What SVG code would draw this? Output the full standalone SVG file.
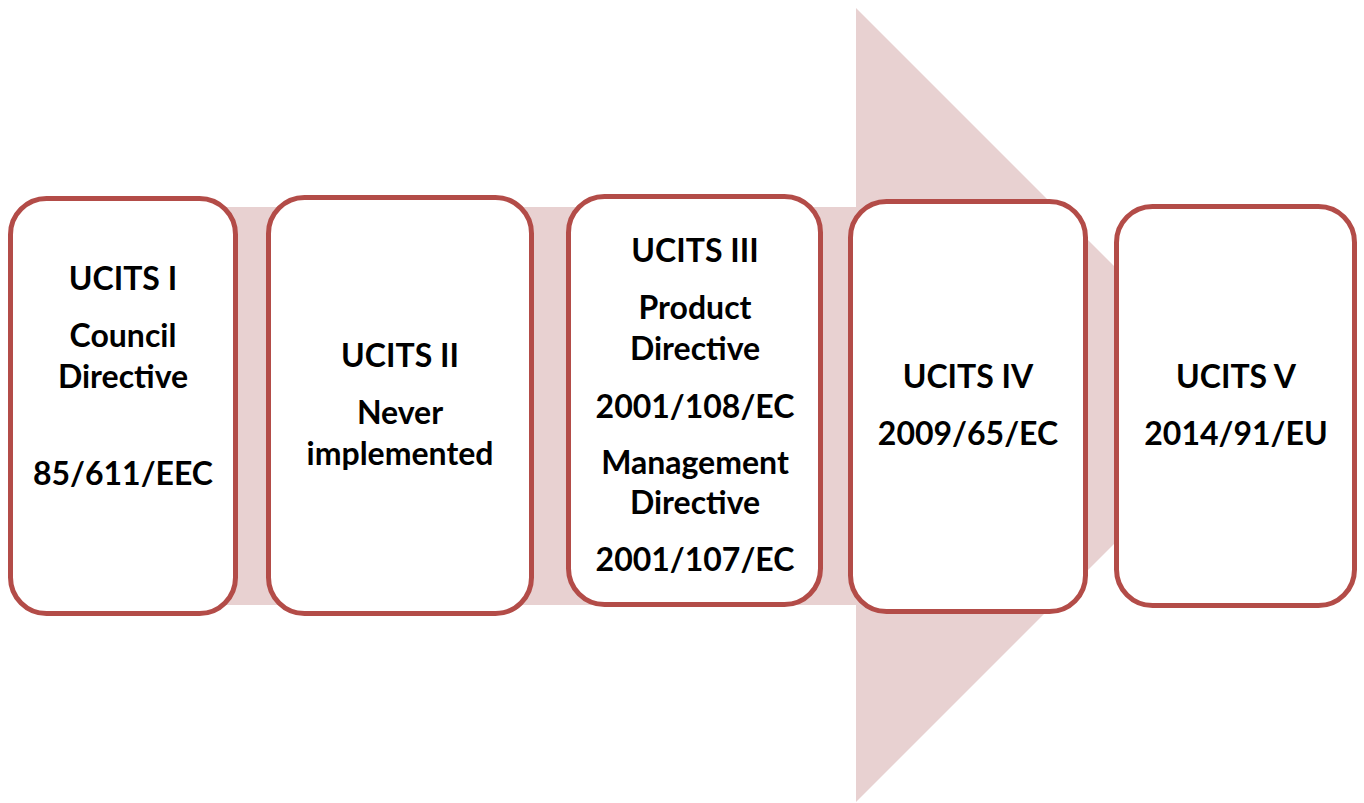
<svg xmlns="http://www.w3.org/2000/svg" width="1364" height="803" viewBox="0 0 1364 803">
<style>
.box{fill:#ffffff;stroke:#B34C48;stroke-width:5}
.t{font-family:Lato,"Open Sans","Liberation Sans",sans-serif;font-weight:bold;font-size:32px;fill:#000;text-anchor:middle}
</style>
<rect width="1364" height="803" fill="#ffffff"/>
<g id="arrow">
<polygon points="60,207 856,207 856,8 1253,405 856,802 856,605 60,605" fill="#E8D1D1"/>
</g>
<g id="connectors"></g>
<g id="n1">
<rect class="box" x="10.5" y="198.5" width="225" height="415" rx="36"/>
<text class="t" x="123" y="290">UCITS I</text>
<text class="t" x="123" y="347">Council</text>
<text class="t" x="123" y="388">Directive</text>
<text class="t" x="123" y="485">85/611/EEC</text>
</g>
<g id="n2">
<rect class="box" x="268.5" y="197.5" width="263" height="416" rx="36"/>
<text class="t" x="400" y="367">UCITS II</text>
<text class="t" x="400" y="424">Never</text>
<text class="t" x="400" y="465">implemented</text>
</g>
<g id="n3">
<rect class="box" x="568.5" y="196.5" width="252" height="408" rx="36"/>
<text class="t" x="695" y="262">UCITS III</text>
<text class="t" x="695" y="319">Product</text>
<text class="t" x="695" y="360">Directive</text>
<text class="t" x="695" y="418">2001/108/EC</text>
<text class="t" x="695" y="474">Management</text>
<text class="t" x="695" y="514">Directive</text>
<text class="t" x="695" y="571">2001/107/EC</text>
</g>
<g id="n4">
<rect class="box" x="850.5" y="201.5" width="235" height="410" rx="36"/>
<text class="t" x="968" y="388">UCITS IV</text>
<text class="t" x="968" y="445">2009/65/EC</text>
</g>
<g id="n5">
<rect class="box" x="1116.5" y="206.5" width="238" height="399" rx="36"/>
<text class="t" x="1236" y="388">UCITS V</text>
<text class="t" x="1236" y="445">2014/91/EU</text>
</g>
</svg>
